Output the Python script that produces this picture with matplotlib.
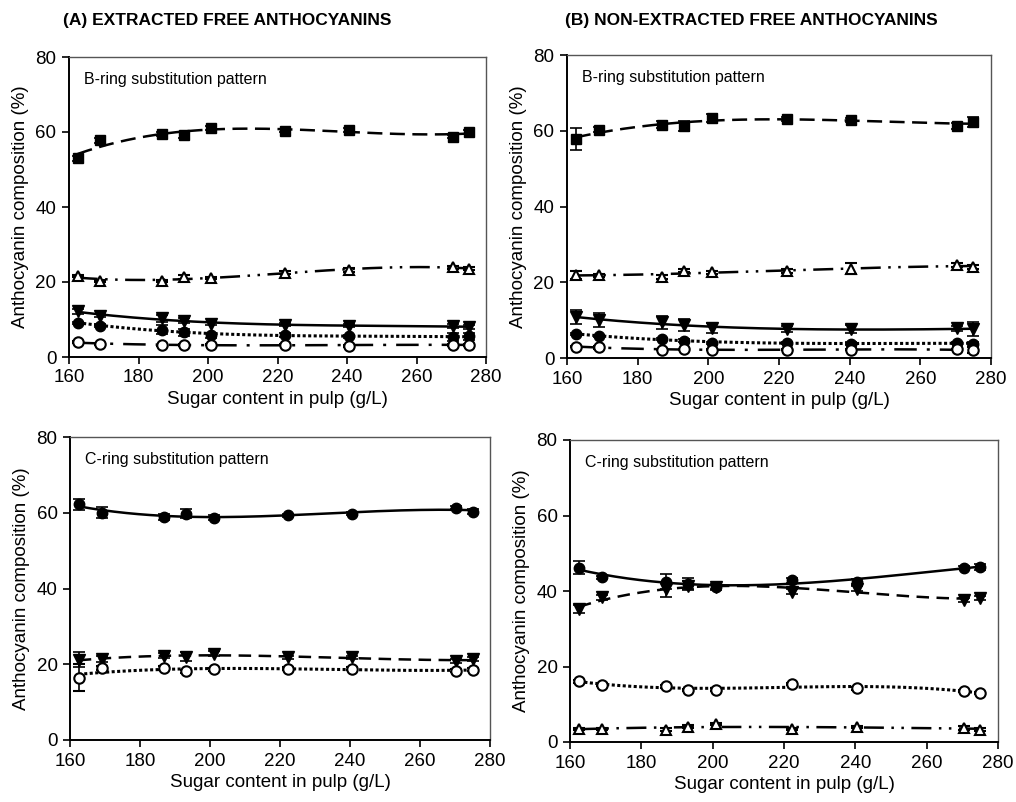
import numpy as np
import matplotlib
matplotlib.use("Agg")
import matplotlib.pyplot as plt

plt.rcParams['font.family'] = ['Liberation Sans', 'DejaVu Sans']

# ---------------- data ----------------
sugar = [162.5, 169, 186.8, 193.1, 201, 222.2, 240.5, 270.4, 275]

# Panel A: extracted, B-ring
A_sq = [53.0, 57.8, 59.4, 59.3, 61.0, 60.4, 60.6, 58.8, 60.0]
A_sq_err = [0.6, 0.6, 0.5, 0.8, 0.5, 0.5, 0.6, 0.5, 0.6]
A_otri = [21.6, 20.2, 20.3, 21.3, 21.0, 22.5, 23.2, 23.9, 23.6]
A_otri_err = [0.3, 0.3, 0.3, 0.5, 0.3, 0.4, 0.6, 0.3, 0.3]
A_itri = [12.2, 11.0, 10.3, 9.7, 8.9, 8.6, 8.4, 8.2, 8.0]
A_itri_err = [0.6, 0.4, 1.0, 0.6, 0.4, 0.4, 0.5, 0.5, 0.6]
A_fcir = [9.1, 8.4, 7.3, 6.6, 5.8, 5.9, 5.6, 5.3, 5.5]
A_fcir_err = [0.3, 0.3, 1.2, 1.0, 0.6, 0.5, 0.4, 1.0, 1.0]
A_ocir = [4.0, 3.4, 3.1, 3.2, 3.3, 3.3, 3.0, 3.2, 3.3]
A_ocir_err = [0.3, 0.3, 0.2, 0.2, 0.2, 0.2, 0.2, 0.3, 0.3]

# Panel B: non-extracted, B-ring
B_sq = [57.8, 60.3, 61.6, 61.3, 63.3, 63.1, 62.8, 61.2, 62.4]
B_sq_err = [3.0, 0.6, 1.0, 1.3, 1.0, 0.6, 0.6, 0.8, 1.3]
B_otri = [21.9, 21.8, 21.4, 23.1, 22.6, 23.0, 23.6, 24.5, 24.1]
B_otri_err = [1.0, 0.5, 0.6, 0.5, 0.5, 0.5, 1.5, 0.5, 0.5]
B_itri = [10.9, 10.0, 9.4, 8.6, 8.0, 7.6, 7.6, 7.8, 7.6]
B_itri_err = [1.8, 1.8, 1.8, 1.6, 1.3, 0.8, 1.1, 0.6, 1.8]
B_fcir = [6.3, 5.9, 5.0, 4.6, 4.0, 4.0, 3.8, 4.0, 3.8]
B_fcir_err = [0.3, 0.3, 0.3, 0.4, 0.3, 0.3, 0.3, 0.3, 0.3]
B_ocir = [3.0, 2.8, 2.2, 2.3, 2.2, 2.2, 2.2, 2.3, 2.0]
B_ocir_err = [0.2, 0.3, 0.2, 0.2, 0.2, 0.2, 0.2, 0.2, 0.8]

# Panel C: extracted, C-ring
C_fcir = [62.2, 60.0, 58.8, 59.8, 58.7, 59.4, 59.8, 61.3, 60.3]
C_fcir_err = [1.5, 1.5, 0.8, 1.3, 0.6, 0.4, 0.4, 0.4, 0.6]
C_itri = [21.2, 21.3, 22.3, 22.0, 22.8, 21.8, 21.8, 20.8, 21.3]
C_itri_err = [2.0, 0.8, 0.6, 1.2, 0.6, 0.5, 0.5, 0.5, 0.5]
C_ocir = [16.5, 19.0, 19.0, 18.1, 18.7, 18.8, 18.8, 18.3, 18.5]
C_ocir_err = [3.5, 0.6, 0.5, 0.4, 0.4, 0.4, 0.4, 0.4, 0.4]

# Panel D: non-extracted, C-ring
D_fcir = [46.2, 43.6, 42.5, 41.9, 41.1, 42.8, 42.5, 46.2, 46.4]
D_fcir_err = [1.8, 0.5, 2.0, 1.5, 0.8, 0.6, 0.8, 0.5, 0.8]
D_itri = [35.2, 38.3, 40.4, 41.4, 41.1, 39.8, 40.6, 37.6, 38.1]
D_itri_err = [1.0, 0.6, 2.0, 1.2, 0.6, 0.6, 0.6, 0.6, 0.6]
D_ocir = [16.1, 15.2, 14.8, 13.8, 13.9, 15.3, 14.2, 13.5, 13.0]
D_ocir_err = [0.4, 0.4, 0.4, 0.3, 0.3, 0.3, 0.3, 0.3, 0.3]
D_otri = [3.5, 3.5, 3.3, 4.1, 4.7, 3.4, 4.0, 3.8, 3.3]
D_otri_err = [0.3, 0.3, 0.3, 0.3, 0.3, 0.3, 0.3, 0.5, 0.5]

xticks = [160, 180, 200, 220, 240, 260, 280]
yticks = [0, 20, 40, 60, 80]
xlabel = "Sugar content in pulp (g/L)"
ylabel = "Anthocyanin composition (%)"

# ---------------- styles ----------------
LS_LONGDASH = (0, (6, 3))
LS_DASH = (0, (5, 3))
LS_DDOT = (0, (8, 3, 1, 3, 1, 3))
LS_DOT = (0, (1, 0.8))
LS_DASHDOT = (0, (9, 4, 1.2, 4))

MK = {
    'sq': dict(marker='s', mfc='black', mec='black', ms=7),
    'otri': dict(marker='^', mfc='white', mec='black', ms=7.5, mew=1.5),
    'itri': dict(marker='v', mfc='black', mec='black', ms=8),
    'fcir': dict(marker='o', mfc='black', mec='black', ms=7.5),
    'ocir': dict(marker='o', mfc='white', mec='black', ms=7.5, mew=1.5),
}

W, H = 1016, 802
fig = plt.figure(figsize=(W / 100, H / 100), dpi=100)


def add_ax(l, r, t, b):
    return fig.add_axes([l / W, 1 - b / H, (r - l) / W, (b - t) / H])


def series(ax, y, err, mk, ls, lw=1.8):
    x = np.array(sugar)
    yv = np.array(y)
    coef = np.polyfit(x, yv, 3)
    xs = np.linspace(x.min(), x.max(), 200)
    ax.plot(xs, np.polyval(coef, xs), color='black', lw=lw, ls=ls, zorder=2)
    ax.errorbar(x, yv, yerr=err, ls='none', ecolor='black', elinewidth=1.2,
                capsize=4, capthick=1.2, zorder=3, **MK[mk])


def style(ax, note):
    ax.set_xlim(160, 280)
    ax.set_ylim(0, 80)
    ax.set_xticks(xticks)
    ax.set_yticks(yticks)
    ax.tick_params(direction='out', length=5, width=1.2, labelsize=13.5,
                   pad=4, colors='black')
    for s in ['left', 'bottom']:
        ax.spines[s].set_linewidth(1.4)
        ax.spines[s].set_color('black')
    for s in ['top', 'right']:
        ax.spines[s].set_linewidth(1.0)
        ax.spines[s].set_color('#555555')
    ax.set_xlabel(xlabel, fontsize=13.5, labelpad=3)
    ax.set_ylabel(ylabel, fontsize=13.5, labelpad=5)
    ax.text(0.035, 0.925, note, transform=ax.transAxes, fontsize=11.5,
            ha='left', va='center')


axA = add_ax(69, 486, 57, 357)
series(axA, A_sq, A_sq_err, 'sq', LS_LONGDASH)
series(axA, A_otri, A_otri_err, 'otri', LS_DDOT)
series(axA, A_itri, A_itri_err, 'itri', '-')
series(axA, A_fcir, A_fcir_err, 'fcir', LS_DOT, lw=2.2)
series(axA, A_ocir, A_ocir_err, 'ocir', LS_DASHDOT)
style(axA, "B-ring substitution pattern")

axB = add_ax(567, 991, 55, 358)
series(axB, B_sq, B_sq_err, 'sq', LS_LONGDASH)
series(axB, B_otri, B_otri_err, 'otri', LS_DDOT)
series(axB, B_itri, B_itri_err, 'itri', '-')
series(axB, B_fcir, B_fcir_err, 'fcir', LS_DOT, lw=2.2)
series(axB, B_ocir, B_ocir_err, 'ocir', LS_DASHDOT)
style(axB, "B-ring substitution pattern")

axC = add_ax(70, 490, 437, 740)
series(axC, C_fcir, C_fcir_err, 'fcir', '-')
series(axC, C_itri, C_itri_err, 'itri', LS_DASH)
series(axC, C_ocir, C_ocir_err, 'ocir', LS_DOT, lw=2.2)
style(axC, "C-ring substitution pattern")

axD = add_ax(570, 998, 440, 742)
series(axD, D_fcir, D_fcir_err, 'fcir', '-')
series(axD, D_itri, D_itri_err, 'itri', LS_DASH)
series(axD, D_ocir, D_ocir_err, 'ocir', LS_DOT, lw=2.2)
series(axD, D_otri, D_otri_err, 'otri', LS_DDOT)
style(axD, "C-ring substitution pattern")

fig.text(63 / W, 1 - 20 / H, "(A) EXTRACTED FREE ANTHOCYANINS",
         fontsize=12.5, fontweight='bold', ha='left', va='center')
fig.text(565 / W, 1 - 20 / H, "(B) NON-EXTRACTED FREE ANTHOCYANINS",
         fontsize=12.5, fontweight='bold', ha='left', va='center')

fig.savefig("out.png", dpi=100)
